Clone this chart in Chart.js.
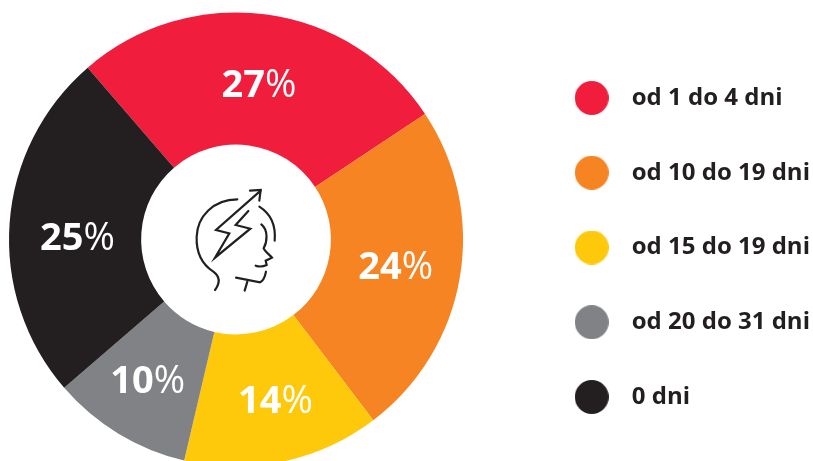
<!DOCTYPE html>
<html><head><meta charset="utf-8">
<script src="https://cdn.jsdelivr.net/npm/chart.js@4"></script>
<style>html,body{margin:0;padding:0;background:#fff;overflow:hidden}canvas{display:block}</style>
</head><body><canvas id="c" width="813" height="461"></canvas>
<script>
const categories = ['od 1 do 4 dni','od 10 do 19 dni','od 15 do 19 dni','od 20 do 31 dni','0 dni'];
const values = [27,24,14,10,25];
const colors = ['#f01e3c','#f68423','#ffc90b','#808285','#231f20'];
const labelNudges = [[1,6],[1,2],[6,5],[-5,5],[2,11]];
const FONT = '"Open Sans"';
const DARK = '#231f20';

function dot(color){
  const k = document.createElement('canvas'); k.width = 34; k.height = 34;
  const g = k.getContext('2d'); g.fillStyle = color; g.beginPath(); g.arc(17,17,17,0,Math.PI*2); g.fill();
  return k;
}
const iconPaths = [
 'M202 88C130 88 82 140 80 200C78 250 100 285 130 305C150 320 150 340 135 360',
 'M268 110C300 130 318 165 314 212',
 'M274 163C295 180 292 215 281 235C285 245 300 255 306 263L287 272L290 285C275 292 265 290 257 287',
 'M198 323L270 337C285 330 285 315 288 305',
 'M232 335L224 362',
 'M235 123L197 165L241 176L135 263L178 190L138 180L272 62',
 'M240 62L272 60L268 92'
];
const overlay = {
  id:'overlay',
  afterLayout(chart){
    const l = chart.legend; const w = l.width;
    l.left = 513; l.right = l.left + w;
    const h = l.height; l.top = 26; l.bottom = l.top + h;
  },
  afterDatasetsDraw(chart){
    const ctx = chart.ctx, arcs = chart.getDatasetMeta(0).data;
    ctx.save();
    ctx.textBaseline = 'middle'; ctx.fillStyle = '#fff'; ctx.textAlign = 'left';
    arcs.forEach((a,i)=>{
      const p = a.getCenterPoint();
      const num = String(values[i]), pct = '%';
      ctx.font = `700 38px ${FONT}`; const w1 = ctx.measureText(num).width;
      ctx.font = `400 38px ${FONT}`; const w2 = ctx.measureText(pct).width;
      const x = p.x + labelNudges[i][0] - (w1+w2)/2, y = p.y + labelNudges[i][1];
      ctx.font = `700 38px ${FONT}`; ctx.fillText(num,x,y);
      ctx.font = `400 38px ${FONT}`; ctx.fillText(pct,x+w1,y);
    });
    ctx.translate(170,170); ctx.scale(1/3,1/3);
    ctx.strokeStyle = DARK; ctx.lineWidth = 6.5; ctx.lineCap='round'; ctx.lineJoin='miter'; 
    iconPaths.forEach(d=>ctx.stroke(new Path2D(d)));
    ctx.restore();
  }
};
new Chart(document.getElementById('c'),{
  type:'doughnut',
  data:{labels:categories,datasets:[{data:values,backgroundColor:colors,borderWidth:0,clip:false}]},
  options:{
    responsive:false,animation:false,
    rotation:-40.8,radius:227,cutout:'41.8%',
    layout:{padding:{top:18,left:17,right:51}},
    plugins:{
      tooltip:{enabled:false},
      legend:{
        position:'right',
        labels:{
          usePointStyle:true,pointStyleWidth:56,padding:50.75,
          font:{family:FONT,size:24,weight:'700'},color:DARK,
          generateLabels:c=>categories.map((t,i)=>({text:t,fillStyle:colors[i],strokeStyle:colors[i],lineWidth:0,pointStyle:dot(colors[i]),index:i,fontColor:DARK}))
        }
      }
    }
  },
  plugins:[overlay]
});
</script></body></html>
